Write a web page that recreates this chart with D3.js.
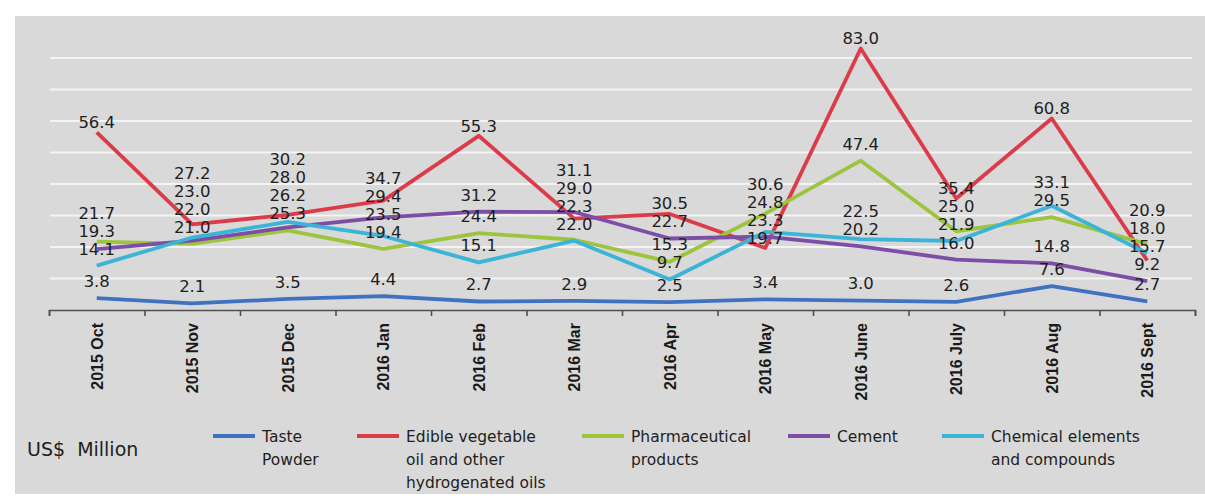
<!DOCTYPE html>
<html><head><meta charset="utf-8">
<script src="https://cdn.jsdelivr.net/npm/d3@7"></script>
<style>body{margin:0;background:#fff} svg{display:block}</style>
</head><body><svg id="c" width="1205" height="499"></svg>
<script>
// ---- data ----
const months = ["2015 Oct","2015 Nov","2015 Dec","2016 Jan","2016 Feb","2016 Mar","2016 Apr","2016 May","2016 June","2016 July","2016 Aug","2016 Sept"];
const seriesNames = ["Taste Powder","Edible vegetable oil and other hydrogenated oils","Pharmaceutical products","Cement","Chemical elements and compounds"];
const legendLabels = [["Taste","Powder"],["Edible vegetable","oil and other","hydrogenated oils"],["Pharmaceutical","products"],["Cement"],["Chemical elements","and compounds"]];
const tastePowder    = [3.8, 2.1, 3.5, 4.4, 2.7, 2.9, 2.5, 3.4, 3.0, 2.6, 7.6, 2.7];
const edibleOils     = [56.4,27.2,30.2,34.7,55.3,29.0,30.5,19.7,83.0,35.4,60.8,15.7];
const pharmaceutical = [21.7,21.0,25.3,19.4,24.4,22.3,15.3,30.6,47.4,25.0,29.5,20.9];
const cement         = [19.3,22.0,26.2,29.4,31.2,31.1,22.7,23.3,20.2,16.0,14.8,9.2];
const chemicals      = [14.1,23.0,28.0,23.5,15.1,22.0,9.7, 24.8,22.5,21.9,33.1,18.0];
const gridValues = [10,20,30,40,50,60,70,80];
const unitLabel = "US$  Million";

// ---- styling / layout ----
const colors = ["#3f73c1","#dc3c4a","#9cc53d","#7d4ea6","#3cb4d7"];
const seriesValues = [tastePowder, edibleOils, pharmaceutical, cement, chemicals];
const series = seriesNames.map((n,k)=>({name:n, values:seriesValues[k], color:colors[k], legend:legendLabels[k]}));

const svg = d3.select("#c");
svg.append("rect").attr("x",15).attr("y",16).attr("width",1190).attr("height",478).attr("fill","#d9d9d9");

const x = d3.scaleBand().domain(months).range([49,1195]);
const cx = m => x(m) + x.bandwidth()/2;
const y = d3.scaleLinear().domain([0,80]).range([310,58]);

// gridlines
svg.append("g").selectAll("line").data(gridValues).join("line")
  .attr("x1",50).attr("x2",1192).attr("y1",d=>y(d)).attr("y2",d=>y(d))
  .attr("stroke","#f4f4f4").attr("stroke-width",2);

// x axis with ticks on category boundaries
const xb = d3.scaleLinear().domain([0,months.length]).range(x.range());
const ax = svg.append("g").attr("transform",`translate(0,${y(0)})`)
  .call(d3.axisBottom(xb).ticks(months.length).tickSizeInner(6).tickSizeOuter(6).tickFormat(""));
ax.selectAll("path,line").attr("stroke","#505050").attr("stroke-width",1.6);

// category labels
svg.append("g").selectAll("text").data(months).join("text")
  .attr("transform",d=>`translate(${cx(d)+6},323) rotate(-90)`)
  .attr("text-anchor","end")
  .attr("font-family","'Liberation Sans', Arial, sans-serif")
  .attr("font-weight","bold").attr("font-size",16).attr("fill","#1a1a1a")
  .text(d=>d);

// lines
const line = d3.line().x((d,i)=>cx(months[i])).y(d=>y(d));
svg.append("g").selectAll("path").data(series).join("path")
  .attr("d",d=>line(d.values)).attr("fill","none")
  .attr("stroke",d=>d.color).attr("stroke-width",3.8)
  .attr("stroke-linejoin","round").attr("stroke-linecap","butt");

// data labels with simple stacking
const labels = [];
months.forEach((m,i)=>{
  const items = series.map((s,k)=>({v:s.values[i], k, m})).sort((a,b)=>a.v-b.v);
  let prev = Infinity;
  items.forEach(it=>{
    let p = y(it.v) - (it.k===1 ? 10 : 17);
    if (p > prev - 18) p = prev - 18;
    prev = p;
    labels.push({...it, py:p});
  });
});
svg.append("g").selectAll("text").data(labels).join("text")
  .attr("x",d=>cx(d.m)).attr("y",d=>d.py).attr("dy","0.36em")
  .attr("text-anchor","middle")
  .attr("font-family","'DejaVu Sans', sans-serif").attr("font-size",16.5).attr("fill","#1e1e1e")
  .text(d=>d.v.toFixed(1));

// legend
svg.append("text").attr("x",27).attr("y",449).attr("dy","0.36em")
  .style("white-space","pre")
  .attr("font-family","'DejaVu Sans', sans-serif").attr("font-size",19).attr("fill","#1e1e1e")
  .text(unitLabel);
const legendX = [213,357,582,788,942];
const lg = svg.append("g").selectAll("g").data(series).join("g")
  .attr("transform",(d,k)=>`translate(${legendX[k]},436)`);
lg.append("line").attr("x1",0).attr("x2",42).attr("y1",0).attr("y2",0)
  .attr("stroke",d=>d.color).attr("stroke-width",4);
lg.each(function(d){
  d3.select(this).selectAll("text").data(d.legend).join("text")
    .attr("x",49).attr("y",(t,j)=>j*23).attr("dy","0.36em")
    .attr("font-family","'DejaVu Sans', sans-serif").attr("font-size",15.5).attr("fill","#1e1e1e")
    .text(t=>t);
});
</script></body></html>
